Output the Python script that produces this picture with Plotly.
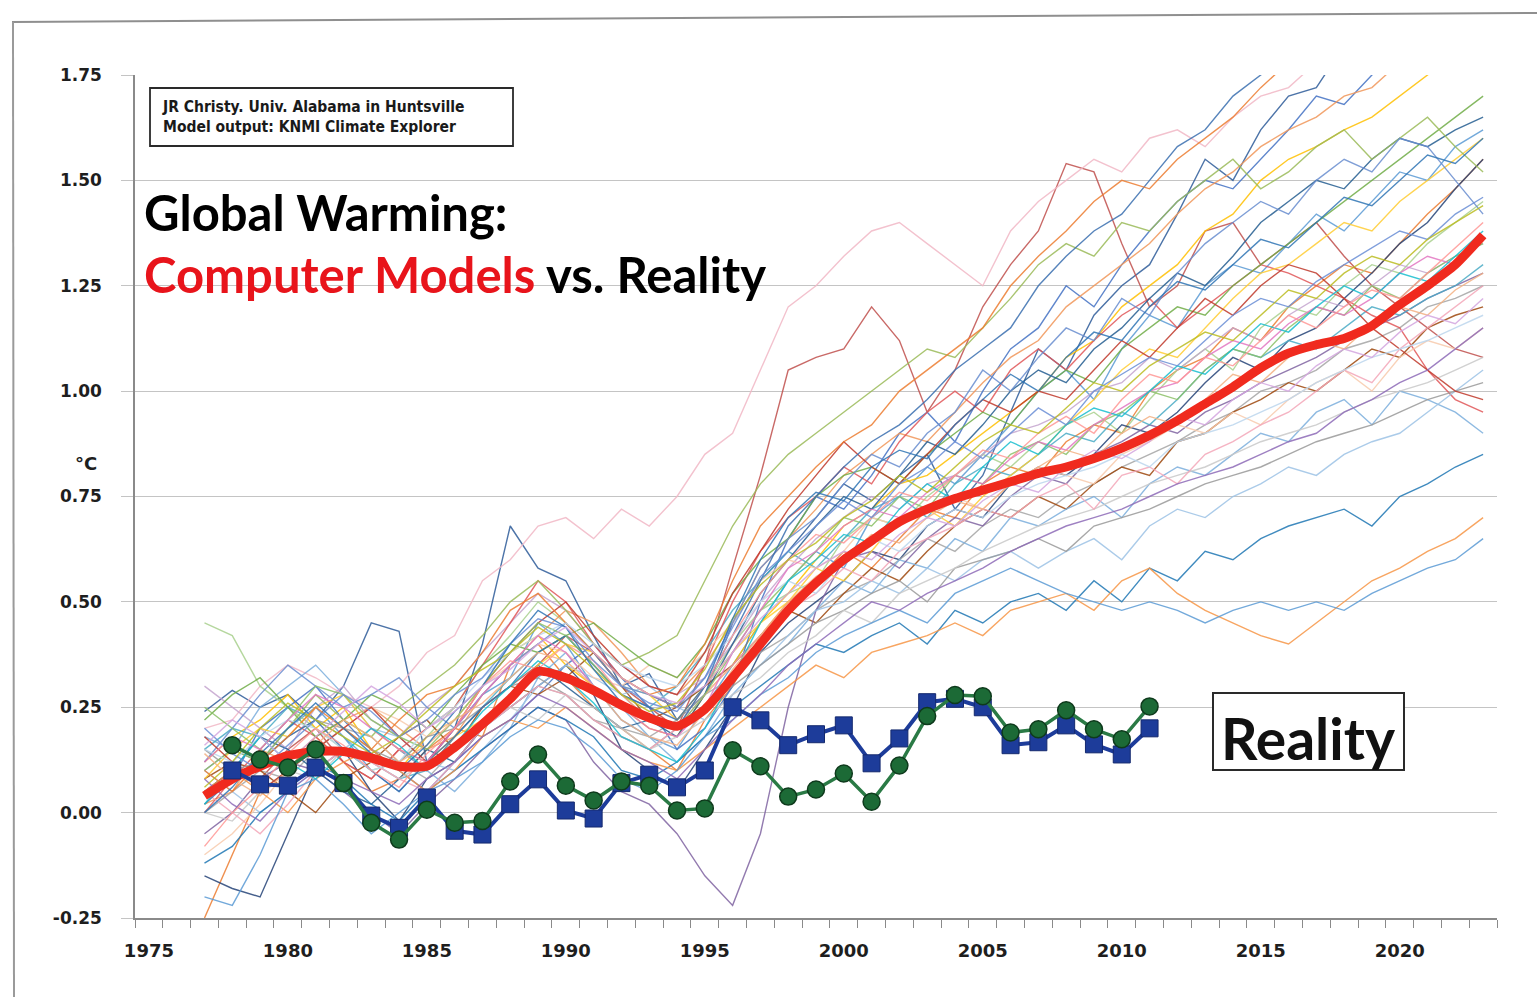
import plotly.graph_objects as go

# ---------------------------------------------------------------------------
# Data
# ---------------------------------------------------------------------------
model_years = list(range(1977, 2024))
obs_years = list(range(1978, 2012))

# Multi-model mean (5-yr smoothed), degC
model_mean = [
    0.04, 0.08, 0.11, 0.135, 0.145, 0.145, 0.13, 0.11, 0.11, 0.155,
    0.21, 0.27, 0.335, 0.32, 0.29, 0.255, 0.225, 0.205, 0.245, 0.32,
    0.40, 0.48, 0.545, 0.60, 0.645, 0.69, 0.72, 0.745, 0.765, 0.785,
    0.805, 0.82, 0.84, 0.865, 0.895, 0.93, 0.97, 1.01, 1.055, 1.09,
    1.11, 1.125, 1.155, 1.205, 1.25, 1.30, 1.37,
]

# Observations (satellite, squares) and balloons (circles)
obs_satellite = [
    0.10, 0.067, 0.064, 0.107, 0.07, -0.007, -0.036, 0.036, -0.043, -0.052,
    0.02, 0.079, 0.005, -0.014, 0.07, 0.09, 0.06, 0.10, 0.25, 0.219,
    0.16, 0.186, 0.207, 0.117, 0.176, 0.262, 0.27, 0.25, 0.16, 0.167,
    0.207, 0.162, 0.138, 0.20,
]
obs_balloon = [
    0.16, 0.126, 0.107, 0.15, 0.07, -0.024, -0.064, 0.007, -0.024, -0.02,
    0.074, 0.138, 0.064, 0.029, 0.074, 0.064, 0.005, 0.01, 0.148, 0.11,
    0.038, 0.055, 0.093, 0.026, 0.112, 0.229, 0.279, 0.276, 0.19, 0.198,
    0.243, 0.198, 0.174, 0.252,
]

# Individual model runs, 1977-2023
run_01 = [0.24, 0.29, 0.25, 0.28, 0.22, 0.30, 0.45, 0.43, 0.12, 0.20,
          0.40, 0.68, 0.58, 0.55, 0.42, 0.30, 0.33, 0.22, 0.28, 0.45,
          0.55, 0.62, 0.70, 0.78, 0.74, 0.80, 0.85, 0.72, 0.80, 0.95,
          1.10, 1.05, 1.18, 1.25, 1.30, 1.42, 1.55, 1.50, 1.62, 1.70,
          1.72, 1.82, 1.90, 1.95, 1.98, 2.02, 2.05]
run_02 = [-0.25, -0.10, 0.05, 0.10, 0.18, 0.12, 0.05, 0.08, 0.15, 0.20,
          0.18, 0.35, 0.40, 0.32, 0.25, 0.20, 0.15, 0.10, 0.22, 0.30,
          0.42, 0.50, 0.55, 0.62, 0.58, 0.65, 0.72, 0.70, 0.78, 0.82,
          0.80, 0.88, 0.92, 0.90, 1.00, 1.05, 1.08, 1.15, 1.12, 1.20,
          1.25, 1.30, 1.28, 1.35, 1.42, 1.48, 1.55]
run_03 = [0.05, 0.10, 0.08, 0.15, 0.20, 0.12, 0.08, 0.15, 0.10, 0.18,
          0.25, 0.30, 0.35, 0.42, 0.38, 0.30, 0.25, 0.20, 0.35, 0.58,
          0.80, 1.05, 1.08, 1.10, 1.20, 1.12, 0.95, 1.05, 1.20, 1.30,
          1.38, 1.54, 1.52, 1.35, 1.20, 1.25, 1.38, 1.40, 1.30, 1.35,
          1.40, 1.32, 1.25, 1.20, 1.15, 1.10, 1.08]
run_04 = [0.20, 0.22, 0.30, 0.35, 0.32, 0.28, 0.25, 0.30, 0.38, 0.42,
          0.55, 0.60, 0.68, 0.70, 0.65, 0.72, 0.68, 0.75, 0.85, 0.90,
          1.05, 1.20, 1.25, 1.32, 1.38, 1.40, 1.35, 1.30, 1.25, 1.38,
          1.45, 1.50, 1.55, 1.52, 1.60, 1.62, 1.58, 1.65, 1.70, 1.72,
          1.78, 1.80, 1.85, 1.88, 1.90, 1.92, 1.95]
run_05 = [0.10, 0.15, 0.12, 0.20, 0.25, 0.18, 0.10, 0.05, 0.12, 0.20,
          0.28, 0.32, 0.45, 0.40, 0.30, 0.22, 0.18, 0.15, 0.25, 0.35,
          0.45, 0.55, 0.62, 0.58, 0.70, 0.75, 0.82, 0.78, 0.85, 0.92,
          1.00, 1.05, 0.98, 1.10, 1.18, 1.15, 1.25, 1.30, 1.28, 1.35,
          1.42, 1.38, 1.45, 1.52, 1.50, 1.58, 1.62]
run_06 = [0.45, 0.42, 0.30, 0.25, 0.20, 0.15, 0.10, 0.12, 0.18, 0.25,
          0.35, 0.42, 0.50, 0.45, 0.38, 0.30, 0.28, 0.25, 0.30, 0.40,
          0.48, 0.52, 0.55, 0.65, 0.70, 0.68, 0.75, 0.80, 0.85, 0.82,
          0.88, 0.92, 0.95, 0.90, 0.98, 1.05, 1.10, 1.05, 1.15, 1.20,
          1.18, 1.25, 1.30, 1.28, 1.35, 1.40, 1.45]
run_07 = [-0.15, -0.18, -0.20, -0.05, 0.10, 0.15, 0.05, -0.02, 0.08, 0.12,
          0.20, 0.25, 0.30, 0.35, 0.28, 0.15, 0.10, 0.05, 0.15, 0.25,
          0.38, 0.45, 0.50, 0.55, 0.62, 0.60, 0.68, 0.72, 0.70, 0.78,
          0.82, 0.80, 0.85, 0.92, 0.90, 0.95, 1.02, 1.08, 1.05, 1.12,
          1.15, 1.22, 1.28, 1.35, 1.40, 1.48, 1.55]
run_08 = [0.00, 0.05, 0.10, 0.08, 0.15, 0.20, 0.18, 0.12, 0.08, 0.15,
          0.22, 0.25, 0.30, 0.28, 0.22, 0.20, 0.18, 0.22, 0.28, 0.32,
          0.38, 0.42, 0.48, 0.52, 0.55, 0.60, 0.65, 0.62, 0.68, 0.72,
          0.70, 0.75, 0.78, 0.82, 0.85, 0.88, 0.92, 0.95, 1.00, 1.02,
          1.05, 1.10, 1.12, 1.15, 1.20, 1.22, 1.25]
run_09 = [0.12, 0.18, 0.22, 0.28, 0.20, 0.25, 0.15, 0.10, 0.18, 0.22,
          0.30, 0.38, 0.42, 0.35, 0.30, 0.25, 0.20, 0.18, 0.28, 0.35,
          0.45, 0.52, 0.60, 0.68, 0.72, 0.78, 0.80, 0.85, 0.90, 0.95,
          1.00, 1.08, 1.12, 1.20, 1.25, 1.30, 1.38, 1.42, 1.50, 1.55,
          1.58, 1.62, 1.65, 1.70, 1.75, 1.80, 1.85]
run_10 = [0.05, 0.08, 0.20, 0.25, 0.30, 0.22, 0.15, 0.10, 0.05, 0.12,
          0.18, 0.22, 0.28, 0.35, 0.40, 0.32, 0.25, 0.15, 0.20, 0.30,
          0.50, 0.65, 0.75, 0.72, 0.80, 0.90, 0.95, 0.88, 1.00, 1.10,
          1.15, 1.25, 1.20, 1.30, 1.38, 1.45, 1.50, 1.48, 1.55, 1.62,
          1.70, 1.68, 1.75, 1.82, 1.78, 1.85, 1.90]
run_11 = [0.08, 0.12, 0.10, 0.05, 0.00, 0.08, 0.12, 0.18, 0.22, 0.15,
          0.25, 0.30, 0.28, 0.32, 0.38, 0.30, 0.22, 0.25, 0.30, 0.35,
          0.42, 0.48, 0.45, 0.52, 0.58, 0.55, 0.62, 0.68, 0.72, 0.70,
          0.75, 0.72, 0.78, 0.82, 0.80, 0.88, 0.90, 0.95, 0.98, 1.02,
          1.00, 1.05, 1.10, 1.08, 1.15, 1.18, 1.20]
run_12 = [0.18, 0.15, 0.25, 0.30, 0.35, 0.28, 0.20, 0.15, 0.10, 0.05,
          0.12, 0.20, 0.32, 0.38, 0.30, 0.25, 0.18, 0.12, 0.18, 0.28,
          0.35, 0.40, 0.48, 0.55, 0.52, 0.60, 0.58, 0.65, 0.62, 0.70,
          0.68, 0.72, 0.75, 0.70, 0.78, 0.82, 0.80, 0.85, 0.90, 0.88,
          0.95, 0.98, 0.92, 1.00, 0.98, 0.95, 0.90]
run_13 = [0.02, 0.05, 0.15, 0.12, 0.18, 0.22, 0.25, 0.20, 0.15, 0.18,
          0.28, 0.35, 0.42, 0.48, 0.45, 0.38, 0.30, 0.28, 0.35, 0.45,
          0.58, 0.65, 0.72, 0.80, 0.85, 0.90, 0.88, 0.95, 1.02, 1.08,
          1.12, 1.20, 1.25, 1.30, 1.35, 1.42, 1.48, 1.52, 1.58, 1.62,
          1.65, 1.70, 1.72, 1.78, 1.82, 1.85, 1.88]
run_14 = [-0.05, 0.00, 0.08, 0.12, 0.10, 0.05, 0.00, -0.05, 0.02, 0.08,
          0.15, 0.20, 0.25, 0.22, 0.12, 0.05, 0.02, -0.05, -0.15, -0.22,
          -0.05, 0.25, 0.48, 0.60, 0.62, 0.58, 0.65, 0.70, 0.68, 0.75,
          0.80, 0.78, 0.85, 0.88, 0.92, 0.90, 0.95, 0.98, 1.02, 1.05,
          1.08, 1.12, 1.15, 1.18, 1.22, 1.25, 1.28]
run_15 = [0.15, 0.20, 0.18, 0.25, 0.22, 0.18, 0.12, 0.08, 0.10, 0.18,
          0.25, 0.32, 0.38, 0.42, 0.35, 0.28, 0.25, 0.30, 0.38, 0.48,
          0.55, 0.62, 0.58, 0.65, 0.72, 0.75, 0.70, 0.78, 0.82, 0.80,
          0.85, 0.90, 0.88, 0.95, 0.92, 0.98, 1.05, 1.10, 1.08, 1.12,
          1.10, 1.15, 1.20, 1.18, 1.22, 1.25, 1.30]
run_16 = [0.30, 0.25, 0.20, 0.15, 0.25, 0.30, 0.22, 0.18, 0.25, 0.30,
          0.38, 0.45, 0.52, 0.48, 0.40, 0.35, 0.30, 0.28, 0.32, 0.40,
          0.50, 0.58, 0.65, 0.70, 0.75, 0.72, 0.78, 0.80, 0.85, 0.90,
          0.92, 0.95, 1.00, 1.02, 1.08, 1.05, 1.10, 1.15, 1.12, 1.18,
          1.22, 1.20, 1.25, 1.30, 1.28, 1.32, 1.35]
run_17 = [0.00, 0.08, 0.15, 0.22, 0.18, 0.12, 0.08, 0.15, 0.20, 0.25,
          0.35, 0.45, 0.55, 0.50, 0.40, 0.32, 0.28, 0.25, 0.35, 0.50,
          0.62, 0.70, 0.75, 0.82, 0.78, 0.88, 0.95, 1.00, 0.95, 1.05,
          1.10, 1.05, 1.12, 1.18, 1.22, 1.15, 1.20, 1.25, 1.30, 1.28,
          1.25, 1.22, 1.18, 1.15, 1.05, 0.98, 0.95]
run_18 = [0.10, 0.05, 0.00, 0.05, 0.10, 0.15, 0.20, 0.18, 0.12, 0.10,
          0.15, 0.22, 0.30, 0.35, 0.32, 0.28, 0.30, 0.25, 0.22, 0.28,
          0.35, 0.42, 0.48, 0.50, 0.55, 0.52, 0.58, 0.55, 0.60, 0.62,
          0.58, 0.62, 0.65, 0.60, 0.68, 0.72, 0.70, 0.75, 0.78, 0.82,
          0.80, 0.85, 0.88, 0.90, 0.95, 1.00, 1.05]
run_19 = [-0.10, -0.05, 0.02, 0.10, 0.15, 0.20, 0.25, 0.22, 0.18, 0.22,
          0.30, 0.35, 0.40, 0.38, 0.32, 0.30, 0.35, 0.32, 0.38, 0.45,
          0.55, 0.60, 0.58, 0.62, 0.70, 0.68, 0.72, 0.75, 0.72, 0.78,
          0.82, 0.80, 0.78, 0.85, 0.88, 0.92, 0.90, 0.95, 0.92, 0.98,
          1.02, 1.05, 1.00, 1.08, 1.12, 1.10, 1.15]
run_20 = [0.22, 0.28, 0.32, 0.25, 0.18, 0.22, 0.28, 0.25, 0.20, 0.28,
          0.35, 0.40, 0.38, 0.42, 0.45, 0.40, 0.35, 0.32, 0.40, 0.52,
          0.60, 0.65, 0.75, 0.80, 0.82, 0.78, 0.85, 0.90, 0.95, 0.92,
          1.00, 1.05, 1.02, 1.10, 1.15, 1.20, 1.18, 1.25, 1.30, 1.35,
          1.40, 1.45, 1.50, 1.55, 1.60, 1.65, 1.70]
run_21 = [0.05, 0.10, 0.18, 0.15, 0.10, 0.05, 0.02, 0.08, 0.15, 0.12,
          0.20, 0.28, 0.35, 0.30, 0.25, 0.20, 0.22, 0.18, 0.28, 0.40,
          0.52, 0.60, 0.68, 0.75, 0.72, 0.80, 0.88, 0.85, 0.92, 1.00,
          1.05, 1.02, 1.10, 1.15, 1.22, 1.28, 1.25, 1.32, 1.40, 1.45,
          1.50, 1.48, 1.55, 1.60, 1.58, 1.62, 1.65]
run_22 = [0.15, 0.10, 0.12, 0.18, 0.22, 0.20, 0.15, 0.12, 0.18, 0.20,
          0.25, 0.30, 0.32, 0.28, 0.22, 0.18, 0.15, 0.20, 0.25, 0.30,
          0.35, 0.40, 0.45, 0.48, 0.52, 0.55, 0.50, 0.58, 0.60, 0.62,
          0.65, 0.62, 0.68, 0.70, 0.72, 0.75, 0.78, 0.80, 0.82, 0.85,
          0.88, 0.90, 0.92, 0.95, 0.98, 1.00, 1.02]
run_23 = [0.08, 0.15, 0.20, 0.18, 0.25, 0.28, 0.20, 0.15, 0.12, 0.18,
          0.22, 0.28, 0.35, 0.40, 0.38, 0.32, 0.28, 0.22, 0.30, 0.38,
          0.45, 0.50, 0.58, 0.55, 0.62, 0.70, 0.72, 0.68, 0.75, 0.80,
          0.85, 0.92, 0.98, 1.05, 1.10, 1.08, 1.15, 1.22, 1.28, 1.30,
          1.35, 1.40, 1.38, 1.45, 1.50, 1.55, 1.60]
run_24 = [-0.12, -0.08, 0.00, 0.05, 0.12, 0.08, 0.02, -0.02, 0.05, 0.10,
          0.15, 0.20, 0.25, 0.22, 0.18, 0.10, 0.08, 0.12, 0.18, 0.25,
          0.30, 0.35, 0.40, 0.38, 0.42, 0.45, 0.40, 0.48, 0.45, 0.50,
          0.52, 0.48, 0.55, 0.50, 0.58, 0.55, 0.62, 0.60, 0.65, 0.68,
          0.70, 0.72, 0.68, 0.75, 0.78, 0.82, 0.85]
run_25 = [0.05, 0.10, 0.05, 0.00, 0.08, 0.12, 0.15, 0.10, 0.05, 0.10,
          0.18, 0.22, 0.20, 0.25, 0.20, 0.15, 0.12, 0.10, 0.15, 0.20,
          0.25, 0.30, 0.35, 0.32, 0.38, 0.40, 0.42, 0.45, 0.42, 0.48,
          0.50, 0.52, 0.48, 0.55, 0.58, 0.52, 0.48, 0.45, 0.42, 0.40,
          0.45, 0.50, 0.55, 0.58, 0.62, 0.65, 0.70]
run_26 = [0.10, 0.15, 0.12, 0.20, 0.28, 0.22, 0.18, 0.25, 0.30, 0.35,
          0.42, 0.50, 0.55, 0.48, 0.40, 0.35, 0.38, 0.42, 0.55, 0.68,
          0.78, 0.85, 0.90, 0.95, 1.00, 1.05, 1.10, 1.08, 1.15, 1.22,
          1.30, 1.35, 1.32, 1.40, 1.38, 1.45, 1.50, 1.55, 1.48, 1.52,
          1.58, 1.62, 1.55, 1.60, 1.65, 1.58, 1.52]
run_27 = [0.00, -0.02, 0.05, 0.10, 0.08, 0.15, 0.12, 0.08, 0.12, 0.15,
          0.20, 0.25, 0.22, 0.28, 0.25, 0.20, 0.15, 0.18, 0.22, 0.28,
          0.32, 0.38, 0.42, 0.48, 0.45, 0.52, 0.55, 0.58, 0.62, 0.65,
          0.68, 0.70, 0.72, 0.75, 0.78, 0.80, 0.82, 0.85, 0.88, 0.90,
          0.92, 0.95, 0.98, 1.00, 1.02, 1.05, 1.08]
run_28 = [0.12, 0.20, 0.28, 0.35, 0.30, 0.25, 0.28, 0.32, 0.25, 0.20,
          0.28, 0.35, 0.40, 0.45, 0.38, 0.30, 0.28, 0.25, 0.32, 0.45,
          0.58, 0.65, 0.70, 0.78, 0.85, 0.82, 0.90, 0.95, 1.05, 1.00,
          1.08, 1.15, 1.12, 1.22, 1.18, 1.28, 1.35, 1.40, 1.45, 1.42,
          1.50, 1.55, 1.52, 1.60, 1.58, 1.50, 1.42]
run_29 = [0.18, 0.12, 0.05, 0.10, 0.15, 0.20, 0.25, 0.18, 0.12, 0.20,
          0.30, 0.38, 0.45, 0.50, 0.42, 0.35, 0.30, 0.28, 0.38, 0.52,
          0.62, 0.72, 0.80, 0.88, 0.82, 0.78, 0.85, 0.92, 0.98, 0.95,
          1.00, 0.98, 1.05, 1.12, 1.08, 1.15, 1.22, 1.18, 1.25, 1.30,
          1.28, 1.22, 1.15, 1.10, 1.05, 1.00, 0.98]
run_30 = [0.05, 0.00, -0.05, 0.02, 0.10, 0.15, 0.12, 0.08, 0.05, 0.12,
          0.20, 0.25, 0.30, 0.28, 0.22, 0.18, 0.15, 0.20, 0.28, 0.35,
          0.42, 0.48, 0.52, 0.58, 0.55, 0.62, 0.65, 0.68, 0.72, 0.70,
          0.75, 0.78, 0.72, 0.80, 0.82, 0.78, 0.85, 0.88, 0.92, 0.95,
          1.00, 1.05, 1.02, 1.10, 1.15, 1.20, 1.25]
run_31 = [0.02, 0.08, 0.12, 0.18, 0.22, 0.15, 0.10, 0.05, 0.12, 0.18,
          0.25, 0.30, 0.38, 0.42, 0.35, 0.28, 0.25, 0.22, 0.30, 0.42,
          0.55, 0.68, 0.75, 0.82, 0.88, 0.92, 0.98, 1.05, 1.10, 1.15,
          1.25, 1.32, 1.38, 1.42, 1.50, 1.58, 1.62, 1.70, 1.75, 1.80,
          1.85, 1.88, 1.92, 1.95, 2.00, 2.02, 2.05]
run_32 = [0.25, 0.20, 0.15, 0.22, 0.30, 0.28, 0.22, 0.18, 0.15, 0.22,
          0.30, 0.38, 0.45, 0.42, 0.35, 0.28, 0.22, 0.20, 0.28, 0.38,
          0.48, 0.55, 0.62, 0.70, 0.68, 0.75, 0.72, 0.80, 0.78, 0.85,
          0.88, 0.85, 0.92, 0.95, 1.00, 0.98, 1.05, 1.10, 1.08, 1.15,
          1.20, 1.18, 1.25, 1.22, 1.28, 1.32, 1.35]
run_33 = [-0.20, -0.22, -0.10, 0.05, 0.08, 0.02, -0.05, 0.00, 0.05, 0.08,
          0.12, 0.18, 0.22, 0.20, 0.15, 0.08, 0.05, 0.10, 0.18, 0.22,
          0.28, 0.32, 0.38, 0.42, 0.45, 0.48, 0.45, 0.52, 0.55, 0.58,
          0.55, 0.52, 0.50, 0.48, 0.50, 0.48, 0.45, 0.48, 0.50, 0.48,
          0.50, 0.48, 0.52, 0.55, 0.58, 0.60, 0.65]
run_34 = [0.10, 0.05, 0.12, 0.18, 0.25, 0.20, 0.15, 0.22, 0.28, 0.30,
          0.38, 0.48, 0.52, 0.45, 0.38, 0.32, 0.28, 0.30, 0.40, 0.55,
          0.68, 0.75, 0.82, 0.88, 0.92, 1.00, 1.05, 1.10, 1.15, 1.25,
          1.32, 1.38, 1.45, 1.50, 1.48, 1.55, 1.60, 1.65, 1.72, 1.78,
          1.80, 1.85, 1.82, 1.88, 1.92, 1.95, 1.98]
run_35 = [0.15, 0.12, 0.18, 0.22, 0.20, 0.15, 0.10, 0.12, 0.20, 0.25,
          0.32, 0.38, 0.42, 0.45, 0.40, 0.35, 0.32, 0.30, 0.35, 0.42,
          0.50, 0.55, 0.52, 0.60, 0.65, 0.62, 0.68, 0.72, 0.70, 0.75,
          0.78, 0.80, 0.82, 0.85, 0.82, 0.88, 0.90, 0.92, 0.95, 0.98,
          1.02, 1.05, 1.08, 1.10, 1.12, 1.15, 1.18]
run_36 = [0.08, 0.02, -0.02, 0.05, 0.10, 0.08, 0.05, 0.02, 0.08, 0.12,
          0.18, 0.22, 0.28, 0.25, 0.20, 0.15, 0.12, 0.08, 0.15, 0.22,
          0.28, 0.35, 0.40, 0.45, 0.50, 0.48, 0.52, 0.55, 0.58, 0.62,
          0.65, 0.68, 0.70, 0.72, 0.75, 0.78, 0.80, 0.82, 0.85, 0.88,
          0.90, 0.95, 0.98, 1.02, 1.05, 1.10, 1.15]
run_37 = [0.12, 0.18, 0.15, 0.22, 0.28, 0.25, 0.20, 0.15, 0.12, 0.20,
          0.28, 0.35, 0.42, 0.38, 0.30, 0.25, 0.20, 0.18, 0.25, 0.38,
          0.48, 0.58, 0.62, 0.68, 0.72, 0.70, 0.76, 0.80, 0.78, 0.84,
          0.88, 0.86, 0.92, 0.96, 1.00, 1.02, 1.08, 1.12, 1.10, 1.16,
          1.20, 1.18, 1.22, 1.28, 1.32, 1.30, 1.36]
run_38 = [0.02, 0.10, 0.18, 0.12, 0.08, 0.14, 0.20, 0.16, 0.10, 0.16,
          0.24, 0.30, 0.36, 0.32, 0.26, 0.18, 0.15, 0.12, 0.20, 0.32,
          0.45, 0.55, 0.60, 0.66, 0.64, 0.72, 0.78, 0.74, 0.82, 0.88,
          0.85, 0.92, 0.96, 0.94, 1.00, 1.06, 1.04, 1.10, 1.16, 1.14,
          1.20, 1.25, 1.22, 1.28, 1.26, 1.32, 1.38]
run_39 = [-0.08, 0.00, 0.06, 0.14, 0.20, 0.16, 0.10, 0.06, 0.14, 0.20,
          0.30, 0.36, 0.34, 0.40, 0.36, 0.28, 0.22, 0.20, 0.30, 0.42,
          0.52, 0.60, 0.66, 0.64, 0.70, 0.76, 0.74, 0.80, 0.86, 0.84,
          0.90, 0.94, 0.90, 0.98, 1.04, 1.02, 1.08, 1.06, 1.12, 1.18,
          1.15, 1.20, 1.24, 1.22, 1.28, 1.34, 1.40]
run_40 = [0.20, 0.14, 0.10, 0.16, 0.22, 0.28, 0.24, 0.18, 0.22, 0.28,
          0.32, 0.40, 0.46, 0.44, 0.36, 0.30, 0.26, 0.24, 0.32, 0.44,
          0.56, 0.62, 0.68, 0.74, 0.70, 0.78, 0.82, 0.88, 0.84, 0.90,
          0.96, 0.92, 1.00, 1.04, 1.08, 1.06, 1.12, 1.18, 1.22, 1.20,
          1.26, 1.30, 1.34, 1.38, 1.36, 1.42, 1.46]
run_41 = [0.06, 0.12, 0.20, 0.26, 0.22, 0.18, 0.14, 0.18, 0.24, 0.30,
          0.34, 0.38, 0.44, 0.40, 0.34, 0.28, 0.24, 0.26, 0.34, 0.46,
          0.54, 0.60, 0.64, 0.70, 0.74, 0.80, 0.76, 0.82, 0.88, 0.92,
          0.90, 0.96, 1.02, 1.00, 1.06, 1.10, 1.14, 1.12, 1.18, 1.24,
          1.22, 1.28, 1.32, 1.30, 1.36, 1.40, 1.44]
run_42 = [0.14, 0.08, 0.04, 0.10, 0.16, 0.22, 0.18, 0.12, 0.16, 0.22,
          0.26, 0.32, 0.38, 0.36, 0.30, 0.22, 0.18, 0.16, 0.24, 0.34,
          0.42, 0.50, 0.56, 0.60, 0.66, 0.64, 0.70, 0.74, 0.72, 0.78,
          0.82, 0.86, 0.84, 0.90, 0.94, 0.92, 0.98, 1.04, 1.02, 1.08,
          1.12, 1.10, 1.16, 1.20, 1.18, 1.24, 1.28]
run_43 = [0.00, 0.06, 0.14, 0.20, 0.26, 0.20, 0.14, 0.10, 0.16, 0.24,
          0.30, 0.40, 0.48, 0.44, 0.34, 0.26, 0.22, 0.20, 0.30, 0.46,
          0.60, 0.70, 0.76, 0.74, 0.82, 0.86, 0.84, 0.92, 0.98, 1.04,
          1.00, 1.08, 1.14, 1.12, 1.20, 1.26, 1.24, 1.30, 1.36, 1.34,
          1.40, 1.46, 1.44, 1.50, 1.56, 1.54, 1.60]
run_44 = [0.16, 0.22, 0.18, 0.12, 0.18, 0.24, 0.30, 0.26, 0.20, 0.24,
          0.30, 0.34, 0.40, 0.44, 0.38, 0.32, 0.28, 0.26, 0.30, 0.38,
          0.46, 0.52, 0.58, 0.62, 0.60, 0.66, 0.70, 0.68, 0.74, 0.78,
          0.76, 0.82, 0.86, 0.84, 0.88, 0.94, 0.92, 0.98, 1.02, 1.00,
          1.06, 1.10, 1.08, 1.14, 1.18, 1.16, 1.22]

model_runs = [
    run_01, run_02, run_03, run_04, run_05, run_06, run_07, run_08, run_09,
    run_10, run_11, run_12, run_13, run_14, run_15, run_16, run_17, run_18,
    run_19, run_20, run_21, run_22, run_23, run_24, run_25, run_26, run_27,
    run_28, run_29, run_30, run_31, run_32, run_33, run_34, run_35, run_36,
    run_37, run_38, run_39, run_40, run_41, run_42, run_43, run_44,
]

run_colors = [
    "#2e5c9a", "#ed7d31", "#c0504d", "#f2b8c6", "#5b9bd5", "#a9d18e",
    "#264478", "#a5a5a5", "#ffc000", "#4472c4", "#9e480e", "#7cafdd",
    "#f1975a", "#8064a2", "#4bacc6", "#c5a5cf", "#e15759", "#9dc3e6",
    "#f8cbad", "#70ad47", "#255e91", "#9a9a9a", "#ffcd33", "#1f77b4",
    "#f79646", "#9bbb59", "#c9c9c9", "#698ed0", "#c0392b", "#f4a7b9",
    "#3a6fb0", "#8cc168", "#5b9bd5", "#ed7d31", "#bdd7ee", "#8e6bb8",
    "#e377c2", "#17becf", "#ff9896", "#6b8fd6", "#bcbd22", "#f4b183",
    "#2f75b5", "#d4a6e0",
]

x_tick_years = [1975, 1980, 1985, 1990, 1995, 2000, 2005, 2010, 2015, 2020]
y_ticks = [-0.25, 0.0, 0.25, 0.5, 0.75, 1.0, 1.25, 1.5, 1.75]
y_tick_text = ["-0.25", "0.00", "0.25", "0.50", "0.75", "1.00", "1.25", "1.50", "1.75"]

# ---------------------------------------------------------------------------
# Figure
# ---------------------------------------------------------------------------
W, H = 1537, 997
ML, MR, MT, MB = 135, 40, 75, 79
PW, PH = W - ML - MR, H - MT - MB


def px(xp):
    return (xp - ML) / PW


def py(yp):
    return (H - MB - yp) / PH


fig = go.Figure()

for i, run in enumerate(model_runs):
    fig.add_trace(go.Scatter(
        x=model_years, y=run, mode="lines",
        line=dict(color=run_colors[i % len(run_colors)], width=1.4),
        opacity=0.85, hoverinfo="skip", showlegend=False,
    ))

fig.add_trace(go.Scatter(
    x=model_years, y=model_mean, mode="lines",
    line=dict(color="#f02a1e", width=9, shape="spline", smoothing=0.6),
    showlegend=False, name="Model mean",
))

fig.add_trace(go.Scatter(
    x=obs_years, y=obs_satellite, mode="lines+markers",
    line=dict(color="#1d3c9a", width=4),
    marker=dict(symbol="square", size=17, color="#1d3c9a",
                line=dict(color="#14296e", width=1)),
    showlegend=False, name="Satellites",
))

fig.add_trace(go.Scatter(
    x=obs_years, y=obs_balloon, mode="lines+markers",
    line=dict(color="#2a7a45", width=3.5),
    marker=dict(symbol="circle", size=17, color="#1c6a36",
                line=dict(color="#0e3a1c", width=1.5)),
    showlegend=False, name="Balloons",
))

x_font = dict(family="DejaVu Sans, sans-serif", size=18, color="#1e1e1e", weight="bold")
y_font = dict(family="DejaVu Sans, sans-serif", size=17, color="#1e1e1e", weight="bold")

fig.update_layout(
    width=W, height=H,
    margin=dict(l=ML, r=MR, t=MT, b=MB),
    paper_bgcolor="white", plot_bgcolor="white",
    showlegend=False,
    xaxis=dict(
        range=[1974.5, 2023.5],
        tickmode="array", tickvals=x_tick_years,
        ticktext=[str(y) for y in x_tick_years],
        ticks="", showgrid=False, zeroline=False,
        showline=True, linecolor="#8a8a8a", linewidth=1.5,
        tickfont=x_font, ticklabelstandoff=16,
        minor=dict(ticks="outside", tick0=1974.5, dtick=1, ticklen=8,
                   tickcolor="#8a8a8a", tickwidth=1.2, showgrid=False),
    ),
    yaxis=dict(
        range=[-0.25, 1.75],
        tickmode="array", tickvals=y_ticks, ticktext=y_tick_text,
        ticks="outside", ticklen=12, tickcolor="#c4c4c4", tickwidth=1.2,
        showgrid=True, gridcolor="#c4c4c4", gridwidth=1.2, zeroline=False,
        showline=True, linecolor="#8a8a8a", linewidth=1.5,
        tickfont=y_font, ticklabelstandoff=16,
    ),
)

# Page frame
fig.add_shape(type="line", xref="paper", yref="paper",
              x0=px(12), y0=py(22), x1=px(1537), y1=py(13),
              line=dict(color="#8f8f8f", width=2))
fig.add_shape(type="line", xref="paper", yref="paper",
              x0=px(13), y0=py(22), x1=px(14), y1=py(997),
              line=dict(color="#9a9a9a", width=2))

# Source box
fig.add_shape(type="rect", xref="paper", yref="paper",
              x0=px(150), y0=py(146), x1=px(513), y1=py(88),
              line=dict(color="#2a2a2a", width=1.8), fillcolor="white")
fig.add_annotation(
    xref="paper", yref="paper", x=px(160), y=py(117), xanchor="left",
    yanchor="middle", align="left", showarrow=False,
    text="JR Christy. Univ. Alabama in Huntsville<br>Model output: KNMI Climate Explorer",
    font=dict(family="DejaVu Sans Condensed, DejaVu Sans, sans-serif", size=15.5,
              color="#1a1a1a", weight="bold"),
)

# Title
title_font = dict(family="Lato, sans-serif", size=49, color="black", weight="bold")
fig.add_annotation(
    xref="paper", yref="paper", x=px(142), y=py(212), xanchor="left",
    yanchor="middle", showarrow=False, text="Global Warming:", font=title_font,
)
fig.add_annotation(
    xref="paper", yref="paper", x=px(142), y=py(274), xanchor="left",
    yanchor="middle", showarrow=False,
    text="<span style='color:#e8141b'>Computer Models</span> vs. Reality",
    font=title_font,
)

# Y-axis unit
fig.add_annotation(
    xref="paper", yref="paper", x=px(86), y=py(464), xanchor="center",
    yanchor="middle", showarrow=False, text="°C", font=x_font,
)

# Observations label
fig.add_shape(type="rect", xref="paper", yref="paper",
              x0=px(1213), y0=py(770), x1=px(1404), y1=py(693),
              line=dict(color="#2a2a2a", width=2), fillcolor="white")
fig.add_annotation(
    xref="paper", yref="paper", x=px(1308), y=py(738), xanchor="center",
    yanchor="middle", showarrow=False, text="Reality",
    font=dict(family="Lato, sans-serif", size=57, color="#111111", weight="bold"),
)

fig.write_html("out.html")
